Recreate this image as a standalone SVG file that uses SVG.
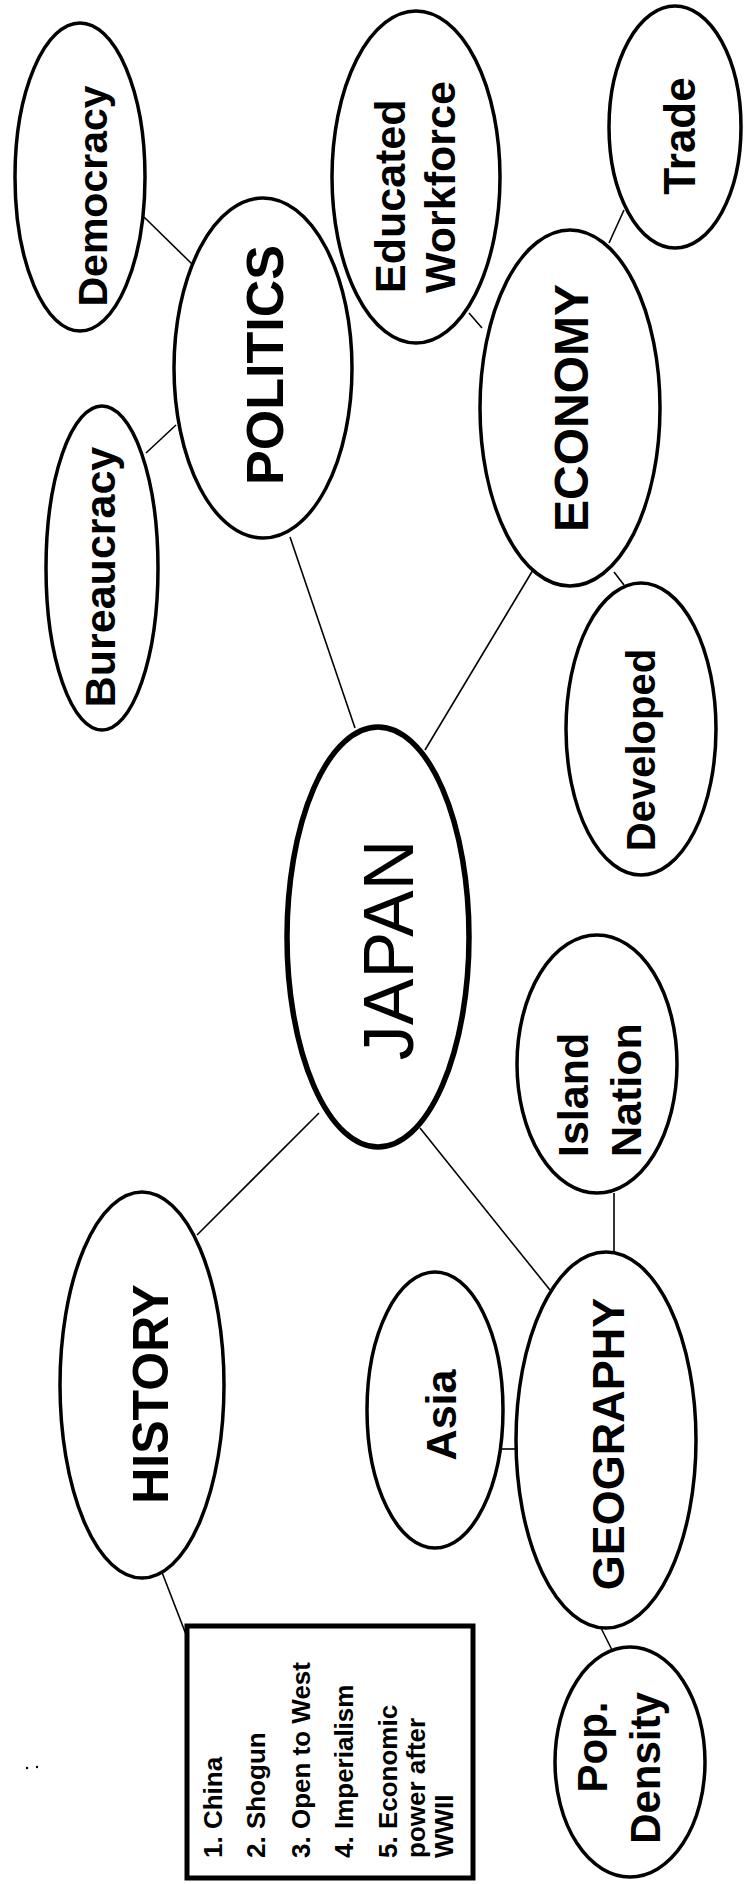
<svg xmlns="http://www.w3.org/2000/svg" width="744" height="1884" viewBox="0 0 744 1884">
<style>
.n{fill:#fff;stroke:#000;stroke-width:3.5}
.c{fill:#fff;stroke:#000;stroke-width:5.5}
.l{stroke:#000;stroke-width:1.6;fill:none}
text{font-family:"Liberation Sans",Arial,sans-serif;fill:#000}
.b{font-weight:bold;text-anchor:middle}
.s{font-weight:bold;text-anchor:start}
.j{font-weight:normal;text-anchor:middle}
.box{font-weight:bold;font-size:26px;text-anchor:start}
</style>
<rect width="744" height="1884" fill="#fff"/>
<g id="connectors">
<line class="l" x1="144" y1="217" x2="192" y2="264"/>
<line class="l" x1="146" y1="453" x2="176" y2="425"/>
<line class="l" x1="469" y1="313" x2="482" y2="328"/>
<line class="l" x1="624" y1="210" x2="609" y2="243"/>
<line class="l" x1="290" y1="537" x2="355" y2="728"/>
<line class="l" x1="533" y1="570" x2="425" y2="750"/>
<line class="l" x1="614" y1="572" x2="624" y2="585"/>
<line class="l" x1="319" y1="1113" x2="197" y2="1235"/>
<line class="l" x1="420" y1="1128" x2="550" y2="1290"/>
<line class="l" x1="614" y1="1193" x2="614" y2="1256"/>
<line class="l" x1="502" y1="1449" x2="517" y2="1449"/>
<line class="l" x1="158" y1="1562" x2="187" y2="1637"/>
<line class="l" x1="600" y1="1626" x2="612" y2="1650"/>
</g>
<g id="democracy"><ellipse class="n" cx="80" cy="177" rx="65" ry="154"/><text class="b" font-size="41" transform="translate(107,196) rotate(-90)">Democracy</text></g>
<g id="politics"><ellipse class="n" cx="263" cy="368" rx="89" ry="170"/><text class="b" font-size="52" transform="translate(283,365) rotate(-90)">POLITICS</text></g>
<g id="bureaucracy"><ellipse class="n" cx="102" cy="568" rx="56" ry="162"/><text class="b" font-size="43" transform="translate(115,577) rotate(-90)">Bureaucracy</text></g>
<g id="educated-workforce"><ellipse class="n" cx="416" cy="177" rx="84" ry="166"/><text class="s" font-size="43" transform="translate(405,293) rotate(-90)">Educated</text><text class="s" font-size="43" transform="translate(455,293) rotate(-90)">Workforce</text></g>
<g id="trade"><ellipse class="n" cx="675" cy="127" rx="66" ry="121"/><text class="b" font-size="44" transform="translate(695,136) rotate(-90)">Trade</text></g>
<g id="economy"><ellipse class="n" cx="570" cy="408" rx="90" ry="178"/><text class="b" font-size="48" transform="translate(588,408) rotate(-90)">ECONOMY</text></g>
<g id="developed"><ellipse class="n" cx="641" cy="729" rx="75" ry="146"/><text class="b" font-size="40" transform="translate(655,750) rotate(-90)">Developed</text></g>
<g id="japan"><ellipse class="c" cx="378" cy="937" rx="91" ry="210"/><text class="j" font-size="70" transform="translate(413,950) rotate(-90)">JAPAN</text></g>
<g id="island-nation"><ellipse class="n" cx="597" cy="1064" rx="80" ry="129"/><text class="s" font-size="43" transform="translate(588,1157) rotate(-90)">Island</text><text class="s" font-size="43" transform="translate(641,1157) rotate(-90)">Nation</text></g>
<g id="history"><ellipse class="n" cx="142" cy="1385" rx="82" ry="193"/><text class="b" font-size="50" transform="translate(168,1394) rotate(-90)">HISTORY</text></g>
<g id="asia"><ellipse class="n" cx="435" cy="1410" rx="68" ry="138"/><text class="b" font-size="43" transform="translate(456,1415) rotate(-90)">Asia</text></g>
<g id="geography"><ellipse class="n" cx="606" cy="1440" rx="90" ry="188"/><text class="b" font-size="45" transform="translate(624,1444) rotate(-90)">GEOGRAPHY</text></g>
<g id="pop-density"><ellipse class="n" cx="630" cy="1762" rx="75" ry="115"/><text class="b" font-size="42" transform="translate(607,1747) rotate(-90)">Pop.</text><text class="b" font-size="42" transform="translate(660,1768) rotate(-90)">Density</text></g>
<g id="history-list">
<rect x="187" y="1626" width="286" height="252" fill="#fff" stroke="#000" stroke-width="5"/>
<text class="box" transform="translate(222,1858) rotate(-90)">1.  China</text>
<text class="box" transform="translate(265,1858) rotate(-90)">2.  Shogun</text>
<text class="box" transform="translate(310,1858) rotate(-90)">3.  Open to West</text>
<text class="box" transform="translate(353,1858) rotate(-90)">4.  Imperialism</text>
<text class="box" transform="translate(397,1858) rotate(-90)">5. Economic</text>
<text class="box" transform="translate(425,1858) rotate(-90)">power after</text>
<text class="box" transform="translate(453,1858) rotate(-90)">WWII</text>
</g>
<g id="specks"><circle cx="27" cy="1768" r="1.2" fill="#000"/><circle cx="37" cy="1767" r="1.2" fill="#000"/></g>
</svg>
